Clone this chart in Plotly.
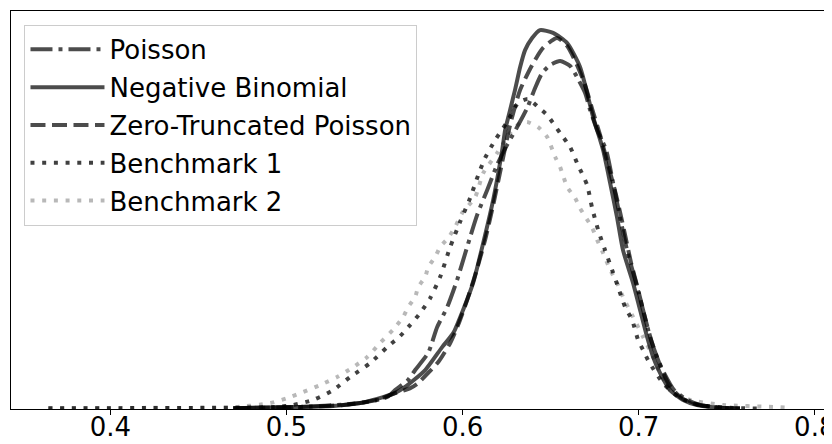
import plotly.graph_objects as go

# ---- data ----
nb_x = [0.4698, 0.5078, 0.5266, 0.5419, 0.5515, 0.5617, 0.5674, 0.5788, 0.5884, 0.5947,
        0.6003, 0.6060, 0.6117, 0.6174, 0.6225, 0.6242, 0.6270, 0.6298, 0.6327, 0.6355,
        0.6395, 0.6440, 0.6514, 0.6594, 0.6667, 0.6741, 0.6798, 0.6838, 0.6877, 0.6911,
        0.6968, 0.7008, 0.7048, 0.7082, 0.7121, 0.7178, 0.7252, 0.7331, 0.7462, 0.7575]
nb_y = [0.01, 0.05, 0.08, 0.17, 0.30, 0.49, 0.68, 1.21, 1.93, 2.37,
        3.10, 3.95, 5.20, 6.56, 8.13, 8.76, 9.39, 10.02, 10.74, 11.27,
        11.65, 11.90, 11.81, 11.49, 10.74, 9.17, 8.13, 7.09, 6.02, 4.98,
        3.95, 3.10, 2.25, 1.62, 1.12, 0.58, 0.27, 0.11, 0.02, 0.0]

po_x = [0.4698, 0.5078, 0.5419, 0.5572, 0.5617, 0.5691, 0.5731, 0.5805, 0.5856, 0.5913,
        0.5969, 0.6026, 0.6083, 0.6140, 0.6196, 0.6253, 0.6310, 0.6367, 0.6412, 0.6452,
        0.6497, 0.6554, 0.6611, 0.6650, 0.6696, 0.6724, 0.6764, 0.6815, 0.6855, 0.6894,
        0.6934, 0.6985, 0.7025, 0.7065, 0.7104, 0.7144, 0.7201, 0.7275, 0.7348, 0.7479, 0.7575]
po_y = [0.01, 0.05, 0.17, 0.36, 0.58, 0.90, 1.21, 1.75, 2.56, 3.19,
        4.04, 5.08, 6.09, 6.87, 7.66, 8.29, 8.85, 9.45, 10.08, 10.55,
        10.80, 10.93, 10.77, 10.42, 9.92, 9.39, 8.76, 8.13, 7.09, 6.02,
        4.98, 3.95, 3.10, 2.25, 1.62, 1.12, 0.58, 0.27, 0.11, 0.02, 0.0]

zt_x = [0.4698, 0.5078, 0.5322, 0.5515, 0.5606, 0.5703, 0.5748, 0.5805, 0.5862, 0.5930,
        0.5975, 0.6026, 0.6072, 0.6128, 0.6174, 0.6225, 0.6270, 0.6327, 0.6395, 0.6457,
        0.6537, 0.6594, 0.6650, 0.6696, 0.6741, 0.6781, 0.6826, 0.6872, 0.6917, 0.6957,
        0.6997, 0.7036, 0.7076, 0.7121, 0.7167, 0.7235, 0.7320, 0.7462, 0.7575]
zt_y = [0.01, 0.05, 0.11, 0.27, 0.46, 0.64, 0.80, 1.12, 1.46, 2.06,
        2.63, 3.41, 4.20, 5.30, 6.40, 7.75, 8.92, 10.02, 10.80, 11.34,
        11.65, 11.40, 10.80, 10.17, 9.32, 8.60, 7.66, 6.71, 5.61, 4.58,
        3.73, 2.85, 2.06, 1.37, 0.80, 0.36, 0.14, 0.02, 0.0]

b1_x = [0.3648, 0.4000, 0.4511, 0.4795, 0.4948, 0.5039, 0.5152, 0.5266, 0.5362, 0.5476,
        0.5572, 0.5646, 0.5703, 0.5759, 0.5816, 0.5873, 0.5930, 0.5986, 0.6043, 0.6089,
        0.6128, 0.6185, 0.6253, 0.6316, 0.6372, 0.6429, 0.6480, 0.6554, 0.6611, 0.6650,
        0.6707, 0.6736, 0.6770, 0.6809, 0.6849, 0.6883, 0.6923, 0.6963, 0.6997, 0.7025,
        0.7059, 0.7138, 0.7235, 0.7348, 0.7519, 0.7690]
b1_y = [0.01, 0.01, 0.02, 0.03, 0.05, 0.11, 0.27, 0.58, 0.99, 1.43,
        1.93, 2.28, 2.63, 3.00, 3.47, 4.14, 5.08, 5.87, 6.62, 7.34,
        7.88, 8.44, 9.01, 9.61, 9.73, 9.48, 9.23, 8.66, 8.22, 7.72,
        7.03, 6.30, 5.61, 4.98, 4.36, 3.82, 3.19, 2.78, 2.15, 1.84,
        1.46, 0.80, 0.33, 0.11, 0.02, 0.0]

b2_x = [0.3648, 0.4227, 0.4681, 0.4908, 0.5005, 0.5095, 0.5192, 0.5288, 0.5379, 0.5459,
        0.5532, 0.5606, 0.5663, 0.5691, 0.5731, 0.5748, 0.5788, 0.5805, 0.5844, 0.5873,
        0.5918, 0.5958, 0.5998, 0.6072, 0.6117, 0.6196, 0.6270, 0.6327, 0.6367, 0.6429,
        0.6480, 0.6526, 0.6554, 0.6594, 0.6639, 0.6667, 0.6736, 0.6764, 0.6798, 0.6838,
        0.6877, 0.6911, 0.6968, 0.7025, 0.7082, 0.7121, 0.7178, 0.7292, 0.7479, 0.7763, 0.7859]
b2_y = [0.01, 0.02, 0.03, 0.17, 0.33, 0.52, 0.74, 0.99, 1.30, 1.62,
        2.06, 2.48, 2.88, 3.19, 3.51, 3.82, 4.14, 4.45, 4.76, 5.08,
        5.36, 5.71, 6.15, 6.65, 7.40, 8.03, 8.66, 8.98, 9.01, 8.85,
        8.54, 7.91, 7.59, 6.97, 6.62, 6.30, 5.68, 5.30, 4.89, 4.36,
        3.95, 3.51, 2.88, 2.25, 1.62, 1.12, 0.58, 0.27, 0.11, 0.05, 0.02]

tick_vals = [0.4, 0.5, 0.6, 0.7, 0.8]
tick_text = ["0.4", "0.5", "0.6", "0.7", "0.8"]

series = [
    ("Poisson", po_x, po_y, "rgba(0,0,0,0.7)", "22px,6px,4px,6px"),
    ("Negative Binomial", nb_x, nb_y, "rgba(0,0,0,0.7)", "solid"),
    ("Zero-Truncated Poisson", zt_x, zt_y, "rgba(0,0,0,0.7)", "15px,6.5px"),
    ("Benchmark 1", b1_x, b1_y, "rgba(0,0,0,0.75)", "4px,7.7px"),
    ("Benchmark 2", b2_x, b2_y, "rgba(0,0,0,0.28)", "4px,7.7px"),
]

fig = go.Figure()
for i, (name, xs, ys, col, dash) in enumerate(series):
    fig.add_trace(go.Scatter(
        x=xs, y=ys, mode="lines", name=name, legendgroup=f"g{i}",
        line=dict(color=col, width=4, dash=dash, shape="spline", smoothing=0.6),
    ))

# the page body has an 8px margin, so the figure is sized/offset to compensate
fig.update_layout(
    width=824, height=436,
    margin=dict(l=2.5, r=4, t=3, b=35, autoexpand=False),
    paper_bgcolor="white", plot_bgcolor="white",
    font=dict(family="DejaVu Sans", size=26, color="black"),
    showlegend=True,
    legend=dict(
        x=0.0165, y=0.965, xanchor="left", yanchor="top",
        bgcolor="rgba(255,255,255,0.8)", bordercolor="#cccccc", borderwidth=1,
        font=dict(family="DejaVu Sans", size=26, color="black"),
        itemwidth=74, tracegroupgap=1,
    ),
    xaxis=dict(
        range=[0.3436, 0.8075], tickvals=tick_vals, ticktext=tick_text,
        ticks="outside", ticklen=5, tickwidth=1, tickcolor="black",
        showline=True, linecolor="black", linewidth=1.2, mirror=True,
        showgrid=False, zeroline=False, automargin=False,
        ticklabelstandoff=-10, ticklabeloverflow="allow",
        tickfont=dict(family="DejaVu Sans", size=26, color="black"),
    ),
    yaxis=dict(
        range=[-0.016, 12.5], showticklabels=False, ticks="",
        showline=True, linecolor="black", linewidth=1.2, mirror=True,
        showgrid=False, zeroline=False, automargin=False,
    ),
)

fig.write_html("out.html")
